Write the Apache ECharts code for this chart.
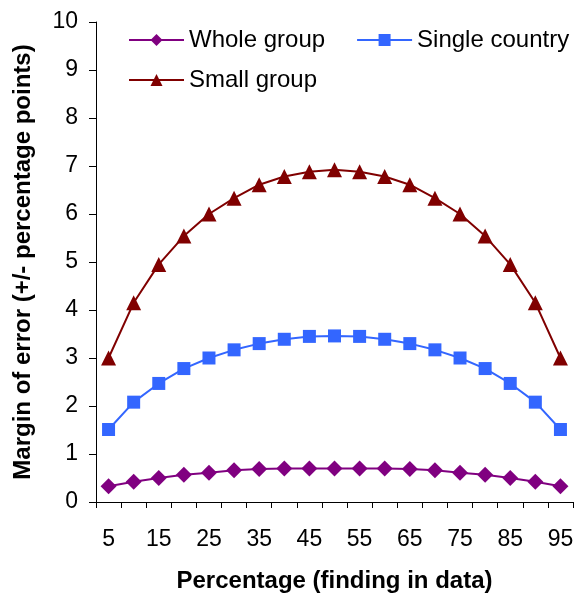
<!DOCTYPE html>
<html><head><meta charset="utf-8">
<script src="https://cdn.jsdelivr.net/npm/echarts@6/dist/echarts.min.js"></script>
<style>html,body{margin:0;padding:0;background:#fff}#c{width:577px;height:593px}</style>
</head><body><div id="c"></div>
<script>
var categories = ['5','10','15','20','25','30','35','40','45','50','55','60','65','70','75','80','85','90','95'];
var wholeGroup = [0.33,0.42,0.50,0.57,0.61,0.66,0.69,0.70,0.70,0.70,0.70,0.70,0.69,0.66,0.61,0.57,0.50,0.42,0.33];
var singleCountry = [1.51,2.08,2.47,2.78,3.00,3.17,3.30,3.39,3.45,3.46,3.45,3.39,3.30,3.17,3.00,2.78,2.47,2.08,1.51];
var smallGroup = [3.00,4.15,4.95,5.54,6.00,6.33,6.61,6.78,6.88,6.92,6.88,6.78,6.61,6.33,6.00,5.54,4.95,4.15,3.00];
var yTicks = [0,10,1];

var chart = echarts.init(document.getElementById('c'));
var font = 'Liberation Sans, Arial, sans-serif';
chart.setOption({
  animation:false,
  textStyle:{fontFamily:font},
  grid:{left:96,right:4,top:22,bottom:91,containLabel:false,outerBoundsMode:'none'},
  legend:[
    {data:['Whole group','Single country'],left:128,top:28,padding:0,itemWidth:55,itemHeight:15,itemGap:31,
     textStyle:{fontSize:24,color:'#000',fontFamily:font}},
    {data:['Small group'],left:128,top:68,padding:0,itemWidth:55,itemHeight:15,
     textStyle:{fontSize:24,color:'#000',fontFamily:font}}
  ],
  xAxis:{type:'category',data:categories,boundaryGap:true,
    name:'Percentage (finding in data)',nameLocation:'middle',nameGap:67,
    nameTextStyle:{fontSize:24,fontWeight:'bold',color:'#000'},
    axisLine:{lineStyle:{color:'#000',width:1}},
    axisTick:{show:true,interval:0,length:6,inside:false,lineStyle:{color:'#000'}},
    axisLabel:{interval:1,fontSize:23,color:'#000',margin:26}},
  yAxis:{type:'value',min:yTicks[0],max:yTicks[1],interval:yTicks[2],
    name:'Margin of error (+/- percentage points)',nameLocation:'middle',nameGap:61,
    nameTextStyle:{fontSize:24,fontWeight:'bold',color:'#000'},
    axisLine:{show:true,lineStyle:{color:'#000',width:1}},
    axisTick:{show:true,length:7,lineStyle:{color:'#000'}},
    splitLine:{show:false},
    axisLabel:{fontSize:23,color:'#000',margin:18}},
  series:[
    {name:'Whole group',type:'line',data:wholeGroup,symbol:'diamond',symbolSize:16,
     itemStyle:{color:'#800080'},lineStyle:{color:'#800080',width:2}},
    {name:'Single country',type:'line',data:singleCountry,symbol:'rect',symbolSize:13,
     itemStyle:{color:'#3366FF'},lineStyle:{color:'#3366FF',width:2}},
    {name:'Small group',type:'line',data:smallGroup,symbol:'triangle',symbolSize:15,
     itemStyle:{color:'#800000'},lineStyle:{color:'#800000',width:2}}
  ]
});
</script></body></html>
